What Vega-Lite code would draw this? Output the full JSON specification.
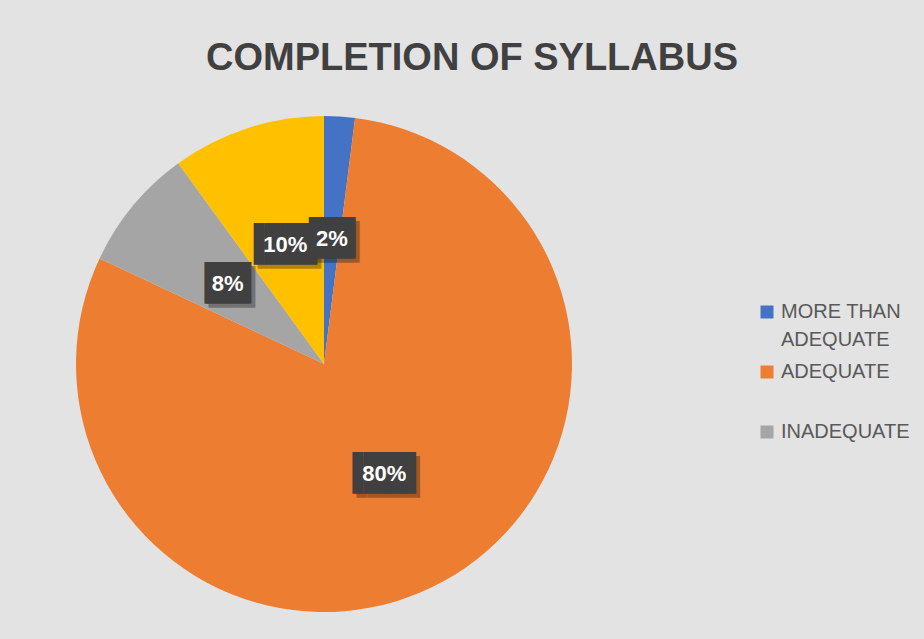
{
  "$schema": "https://vega.github.io/schema/vega-lite/v6.json",
  "autosize": {"type": "none"},
  "width": 496,
  "height": 496,
  "padding": {"left": 76, "top": 116, "right": 352, "bottom": 27},
  "background": "#e3e3e3",
  "title": {
    "text": "COMPLETION OF SYLLABUS",
    "font": "Liberation Sans",
    "fontSize": 38,
    "fontWeight": "bold",
    "color": "#404040",
    "anchor": "middle",
    "dx": 148,
    "offset": 38
  },
  "config": {
    "style": {"guide-label": {"lineHeight": 28}}
  },
  "data": {
    "values": [
      {"category": "MORE THAN ADEQUATE", "value": 2, "label": "2%"},
      {"category": "ADEQUATE", "value": 80, "label": "80%"},
      {"category": "INADEQUATE", "value": 8, "label": "8%"},
      {"category": "HIGHLY INADEQUATE", "value": 10, "label": "10%"}
    ]
  },
  "transform": [
    {"window": [{"op": "row_number", "as": "idx"}]}
  ],
  "encoding": {
    "theta": {"field": "value", "type": "quantitative", "stack": true},
    "order": {"field": "idx", "type": "quantitative", "sort": "ascending"},
    "color": {
      "field": "category",
      "type": "nominal",
      "sort": ["MORE THAN ADEQUATE", "ADEQUATE", "INADEQUATE", "HIGHLY INADEQUATE"],
      "scale": {
        "domain": ["MORE THAN ADEQUATE", "ADEQUATE", "INADEQUATE", "HIGHLY INADEQUATE"],
        "range": ["#4472C4", "#ED7D31", "#A5A5A5", "#FFC000"]
      },
      "legend": null
    }
  },
  "layer": [
    {
      "mark": {"type": "arc"},
      "encoding": {
        "color": {
          "field": "category",
          "type": "nominal",
          "sort": ["MORE THAN ADEQUATE", "ADEQUATE", "INADEQUATE", "HIGHLY INADEQUATE"],
          "scale": {
            "domain": ["MORE THAN ADEQUATE", "ADEQUATE", "INADEQUATE", "HIGHLY INADEQUATE"],
            "range": ["#4472C4", "#ED7D31", "#A5A5A5", "#FFC000"]
          },
          "legend": {
            "title": null,
            "orient": "none",
            "legendX": 681,
            "legendY": 186,
            "values": ["MORE THAN ADEQUATE", "ADEQUATE", "INADEQUATE"],
            "labelExpr": "datum.label == 'MORE THAN ADEQUATE' ? ['MORE THAN', 'ADEQUATE'] : datum.label",
            "labelFont": "Liberation Sans",
            "labelFontSize": 20,
            "labelColor": "#595959",
            "labelLimit": 300,
            "labelOffset": 4,
            "symbolType": "square",
            "symbolSize": 169,
            "symbolStrokeWidth": 0,
            "gridAlign": "all",
            "rowPadding": 12
          }
        }
      }
    },
    {
      "mark": {"type": "text", "radius": 125, "font": "DejaVu Sans Mono", "fontSize": 35, "baseline": "middle", "align": "center", "dx": 4, "dy": 4, "opacity": 0.3},
      "encoding": {
        "fill": {"value": "#000000"},
        "text": {"condition": {"test": "length(datum.label) > 2", "value": "▐██▌"}, "value": "▕██▏"}
      }
    },
    {
      "mark": {"type": "text", "radius": 125, "font": "DejaVu Sans Mono", "fontSize": 35, "baseline": "middle", "align": "center"},
      "encoding": {
        "fill": {"value": "#404040"},
        "text": {"condition": {"test": "length(datum.label) > 2", "value": "▐██▌"}, "value": "▕██▏"}
      }
    },
    {
      "mark": {"type": "text", "radius": 125, "font": "Liberation Sans", "fontSize": 22, "fontWeight": "bold", "baseline": "middle", "align": "center"},
      "encoding": {
        "fill": {"value": "#ffffff"},
        "text": {"field": "label"}
      }
    }
  ]
}
